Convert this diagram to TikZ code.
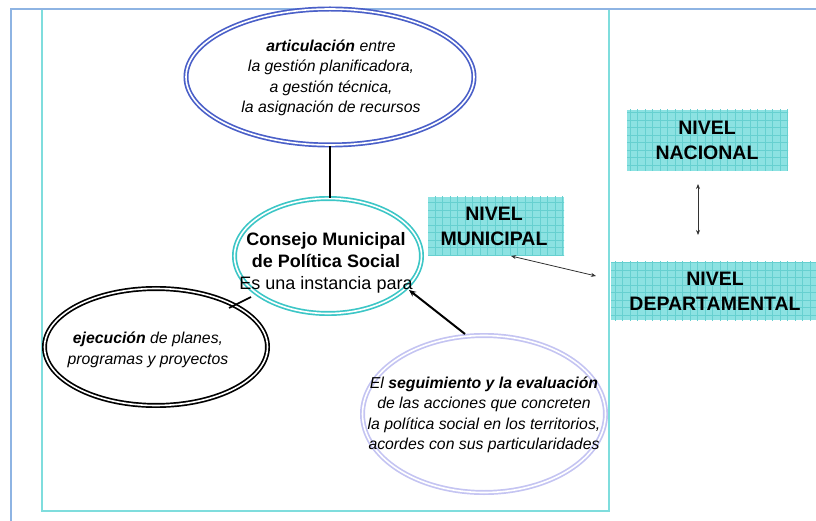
\documentclass[tikz,border=0pt]{standalone}
\usepackage{fontspec}
\setmainfont{Liberation Sans}
\usetikzlibrary{shapes.geometric,arrows.meta}
\definecolor{frameblue}{HTML}{8EB4E3}
\definecolor{framecyan}{HTML}{7FDDDD}
\definecolor{ellblue}{HTML}{4A5FC8}
\definecolor{ellcyan}{HTML}{3CC6C6}
\definecolor{elllav}{HTML}{C4C4F2}
\definecolor{boxfill}{HTML}{8CE2E2}
\definecolor{boxgrid}{HTML}{66D0D0}
\tikzset{
  ell/.style={ellipse, draw=#1, double=white, line width=1.7pt, double distance=1.6pt, inner sep=0pt},
  etext/.style={align=center, font=\fontsize{15.8}{20.5}\selectfont\itshape, inner sep=0pt},
  boxtext/.style={align=center, font=\fontsize{19.5}{25}\selectfont\bfseries, inner sep=0pt},
  conn/.style={draw=black, line width=2pt},
  thinarrow/.style={draw=black!80, line width=0.8pt, {Stealth[length=5pt,width=4pt]}-{Stealth[length=5pt,width=4pt]}},
}
\newcommand{\gridbox}[5]{% name, x1, y1, x2, y2
  \fill[boxfill] (#2,#3) rectangle (#4,#5);
  \begin{scope}
    \clip (#2,#3) rectangle (#4,#5);
    \draw[boxgrid, line width=0.5pt, step=7.5pt] (#2-8,#3-8) grid (#4+8,#5+8);
  \end{scope}
  \coordinate (#1) at ({(#2+#4)/2},{(#3+#5)/2});
}
\begin{document}
\begin{tikzpicture}[x=1pt,y=-1pt]
\useasboundingbox (0,0) rectangle (816,521);
% frames
\draw[framecyan, line width=1.6pt] (42,9) -- (42,511) -- (609,511) -- (609,9);
\draw[frameblue, line width=2pt] (11,521) -- (11,9) -- (816,9);

% ellipses
\node[ell=ellblue, minimum width=288pt, minimum height=136pt] (top) at (330,77) {};
\node[ell=ellcyan, minimum width=187pt, minimum height=115pt] (mid) at (328,256) {};
\node[ell=black, minimum width=223pt, minimum height=117pt] (bl) at (156,347) {};
\node[ell=elllav, minimum width=243pt, minimum height=157pt] (br) at (484,414) {};

% texts
\node[etext] (ttop) at (331,78) {\textbf{articulación} entre\\la gestión planificadora,\\a gestión técnica,\\la asignación de recursos};
\node[align=center, inner sep=0pt, font=\fontsize{18}{22}\selectfont] (tmid) at (326,263)
  {\textbf{Consejo Municipal}\\\textbf{de Política Social}\\Es una instancia para};
\node[etext] (tbl) at (148,350) {\textbf{ejecución} de planes,\\programas y proyectos};
\node[etext] (tbr) at (484,415) {El \textbf{seguimiento y la evaluación}\\de las acciones que concreten\\la política social en los territorios,\\acordes con sus particularidades};

% connectors
\draw[conn, line width=2.5pt] (top.south) -- (top.south |- mid.north);
\coordinate (m1) at (251,297);
\coordinate (b1) at (229,308);
\draw[conn, line width=1.6pt] (m1) -- (b1);
\coordinate (r1) at (465,334);
\coordinate (m2) at (409,290);
\draw[conn, -{Stealth[length=7pt,width=6pt]}] (r1) -- (m2);

% level boxes
\gridbox{mun}{428}{197}{564}{256}
\gridbox{nac}{627}{110}{788}{171}
\gridbox{dep}{611}{262}{816}{320}
\node[boxtext] (tmun) at (494,226) {NIVEL\\MUNICIPAL};
\node[boxtext] (tnac) at (707,140) {NIVEL\\NACIONAL};
\node[boxtext] (tdep) at (715,291) {NIVEL\\DEPARTAMENTAL};

% level arrows
\coordinate (n1) at (698,184);
\coordinate (d1) at (698,235);
\draw[thinarrow] (n1) -- (d1);
\coordinate (u1) at (511,256);
\coordinate (d2) at (596,276);
\draw[thinarrow] (u1) -- (d2);
\end{tikzpicture}
\end{document}
